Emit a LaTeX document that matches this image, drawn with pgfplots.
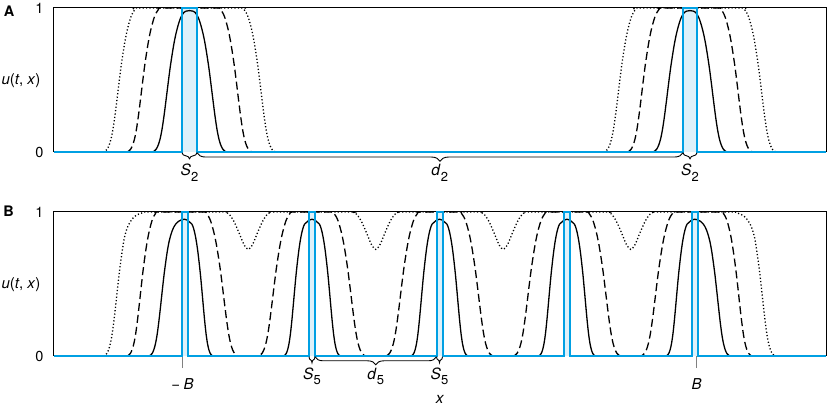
\documentclass[border=0pt]{standalone}
\usepackage{fontspec}
\setmainfont{TeX Gyre Heros}
\usepackage{pgfplots}
\pgfplotsset{compat=1.18}
\usetikzlibrary{decorations.pathreplacing}
\definecolor{myblue}{RGB}{0,160,227}
\definecolor{lightblue}{RGB}{222,241,250}
\newcommand{\lab}[2]{\textit{#1}\raisebox{-0.33em}{\fontsize{13}{15}\selectfont #2}}
\tikzset{bracestyle/.style={decorate, line width=0.9pt, black}}
\pgfplotsset{
  panel/.style={
    scale only axis, width=772pt, height=144pt,
    xmin=54, xmax=826, ymin=0, ymax=1,
    clip=false,
    axis line style={black, line width=1pt},
    ytick={0,1}, yticklabels={0,1},
    ytick style={draw=none},
    tick label style={font=\fontsize{14.5}{17}\selectfont},
    yticklabel style={xshift=-7pt},
    ylabel={\textit{u}(\textit{t}, \textit{x})},
    every axis y label/.style={at={(axis description cs:0,0.5)}, anchor=east, xshift=-10pt, yshift=-1pt, font=\fontsize{15}{17}\selectfont},
  },
  solidc/.style={black, line width=1.3pt, smooth},
  dashedc/.style={black, line width=1.3pt, smooth, dash pattern=on 8pt off 4pt},
  dottedc/.style={black, line width=1.3pt, smooth, dash pattern=on 1.2pt off 2.2pt},
  bluestep/.style={myblue, line width=2pt},
}
\begin{document}
\begin{tikzpicture}
\path[use as bounding box] (0,0) rectangle (829pt,409pt);
% ---------------- Panel A ----------------
\begin{axis}[panel, at={(54pt,257pt)}, anchor=south west, xtick=\empty]
\addplot[fill=lightblue, draw=none] coordinates {(182,0) (182,1) (197,1) (197,0)} \closedcycle;
\addplot[fill=lightblue, draw=none] coordinates {(683,0) (683,1) (697,1) (697,0)} \closedcycle;
% solid
\addplot[solidc] coordinates {(152,0) (154,0.005) (156,0.018) (158,0.044) (160,0.088) (162,0.157) (164,0.250) (166,0.358) (168,0.470) (170,0.578) (172,0.671) (174,0.755) (176,0.823) (178,0.877) (180,0.921) (182,0.951) (184,0.970) (186,0.978) (189.5,0.982) (193,0.978) (195,0.970) (197,0.951) (199,0.921) (201,0.877) (203,0.823) (205,0.755) (207,0.671) (209,0.578) (211,0.470) (213,0.358) (215,0.250) (217,0.157) (219,0.088) (221,0.044) (223,0.018) (225,0.005) (227,0)};
\addplot[solidc] coordinates {(652.5,0) (654.5,0.005) (656.5,0.018) (658.5,0.044) (660.5,0.088) (662.5,0.157) (664.5,0.250) (666.5,0.358) (668.5,0.470) (670.5,0.578) (672.5,0.671) (674.5,0.755) (676.5,0.823) (678.5,0.877) (680.5,0.921) (682.5,0.951) (684.5,0.970) (686.5,0.978) (690,0.982) (693.5,0.978) (695.5,0.970) (697.5,0.951) (699.5,0.921) (701.5,0.877) (703.5,0.823) (705.5,0.755) (707.5,0.671) (709.5,0.578) (711.5,0.470) (713.5,0.358) (715.5,0.250) (717.5,0.157) (719.5,0.088) (721.5,0.044) (723.5,0.018) (725.5,0.005) (727.5,0)};
% dashed
\addplot[dashedc] coordinates {(126.5,0) (128.5,0.005) (130.5,0.018) (132.5,0.045) (134.5,0.090) (136.5,0.160) (138.5,0.255) (140.5,0.365) (142.5,0.480) (144.5,0.590) (146.5,0.685) (148.5,0.770) (150.5,0.840) (152.5,0.895) (154.5,0.940) (156.5,0.970) (158.5,0.990) (160.5,1) (189.5,1) (218.5,1) (220.5,0.990) (222.5,0.970) (224.5,0.940) (226.5,0.895) (228.5,0.840) (230.5,0.770) (232.5,0.685) (234.5,0.590) (236.5,0.480) (238.5,0.365) (240.5,0.255) (242.5,0.160) (244.5,0.090) (246.5,0.045) (248.5,0.018) (250.5,0.005) (252.5,0)};
\addplot[dashedc] coordinates {(627,0) (629,0.005) (631,0.018) (633,0.045) (635,0.090) (637,0.160) (639,0.255) (641,0.365) (643,0.480) (645,0.590) (647,0.685) (649,0.770) (651,0.840) (653,0.895) (655,0.940) (657,0.970) (659,0.990) (661,1) (690,1) (719,1) (721,0.990) (723,0.970) (725,0.940) (727,0.895) (729,0.840) (731,0.770) (733,0.685) (735,0.590) (737,0.480) (739,0.365) (741,0.255) (743,0.160) (745,0.090) (747,0.045) (749,0.018) (751,0.005) (753,0)};
% dotted
\addplot[dottedc] coordinates {(103,0) (105,0.005) (107,0.018) (109,0.045) (111,0.090) (113,0.160) (115,0.255) (117,0.365) (119,0.480) (121,0.590) (123,0.685) (125,0.770) (127,0.840) (129,0.895) (131,0.940) (133,0.970) (135,0.990) (137,1) (189.5,1) (242,1) (244,0.990) (246,0.970) (248,0.940) (250,0.895) (252,0.840) (254,0.770) (256,0.685) (258,0.590) (260,0.480) (262,0.365) (264,0.255) (266,0.160) (268,0.090) (270,0.045) (272,0.018) (274,0.005) (276,0)};
\addplot[dottedc] coordinates {(603.5,0) (605.5,0.005) (607.5,0.018) (609.5,0.045) (611.5,0.090) (613.5,0.160) (615.5,0.255) (617.5,0.365) (619.5,0.480) (621.5,0.590) (623.5,0.685) (625.5,0.770) (627.5,0.840) (629.5,0.895) (631.5,0.940) (633.5,0.970) (635.5,0.990) (637.5,1) (690,1) (742.5,1) (744.5,0.990) (746.5,0.970) (748.5,0.940) (750.5,0.895) (752.5,0.840) (754.5,0.770) (756.5,0.685) (758.5,0.590) (760.5,0.480) (762.5,0.365) (764.5,0.255) (766.5,0.160) (768.5,0.090) (770.5,0.045) (772.5,0.018) (774.5,0.005) (776.5,0)};
% initial condition
\addplot[bluestep] coordinates {(54,0) (182,0) (182,1) (197,1) (197,0) (683,0) (683,1) (697,1) (697,0) (826,0)};
% braces
\draw[bracestyle, decoration={brace, mirror, amplitude=6pt}] ([yshift=-0.8pt]axis cs:182,0) -- ([yshift=-0.8pt]axis cs:197,0);
\draw[bracestyle, decoration={brace, mirror, amplitude=6pt}] ([yshift=-0.8pt]axis cs:683,0) -- ([yshift=-0.8pt]axis cs:697,0);
\draw[bracestyle, decoration={brace, mirror, amplitude=8.5pt}] ([yshift=-0.8pt]axis cs:197,0) -- ([yshift=-0.8pt]axis cs:683,0);
\node[anchor=base, font=\fontsize{15.5}{17}\selectfont, yshift=-24pt] at (axis cs:189.5,0) {\lab{S}{2}};
\node[anchor=base, font=\fontsize{15.5}{17}\selectfont, yshift=-24pt] at (axis cs:690,0) {\lab{S}{2}};
\node[anchor=base, font=\fontsize{15.5}{17}\selectfont, yshift=-24pt] at (axis cs:439.75,0) {\lab{d}{2}};
\end{axis}
% ---------------- Panel B ----------------
\begin{axis}[panel, at={(54pt,53pt)}, anchor=south west,
  xtick={182.5,696.5}, xticklabels={−\hspace{0.22em}\textit{B},\textit{B}},
  xtick pos=bottom,
  xtick align=outside, major tick length=12pt,
  xtick style={draw=gray, line width=0.8pt},
  xticklabel style={anchor=base, yshift=-21pt, font=\fontsize{15}{17}\selectfont},
  xlabel={\textit{x}},
  every axis x label/.style={at={(axis description cs:0.5,0)}, anchor=base, yshift=-48pt, font=\fontsize{15.5}{17}\selectfont},
]
\addplot[fill=lightblue, draw=none] coordinates {(181.5,0) (181.5,1) (187.5,1) (187.5,0)} \closedcycle;
\addplot[fill=lightblue, draw=none] coordinates {(309,0) (309,1) (315,1) (315,0)} \closedcycle;
\addplot[fill=lightblue, draw=none] coordinates {(436.5,0) (436.5,1) (442.5,1) (442.5,0)} \closedcycle;
\addplot[fill=lightblue, draw=none] coordinates {(564,0) (564,1) (570,1) (570,0)} \closedcycle;
\addplot[fill=lightblue, draw=none] coordinates {(691.5,0) (691.5,1) (697.5,1) (697.5,0)} \closedcycle;
% solid bumps
\addplot[solidc] coordinates {(148.7,0) (150.4,0.005) (152.1,0.017) (153.8,0.043) (155.5,0.086) (157.2,0.152) (158.9,0.242) (160.6,0.347) (162.3,0.456) (164,0.561) (165.7,0.651) (167.4,0.732) (169.1,0.795) (170.8,0.840) (172.5,0.875) (174.2,0.900) (175.9,0.918) (178.5,0.935) (181.5,0.946) (184.5,0.950) (187.5,0.943) (190,0.928) (192,0.915) (193.5,0.888) (194.9,0.850) (196.3,0.798) (197.7,0.732) (199.1,0.651) (200.5,0.561) (201.9,0.456) (203.3,0.347) (204.7,0.242) (206.1,0.152) (207.5,0.086) (208.9,0.043) (210.3,0.017) (211.7,0.005) (213.1,0)};
\addplot[solidc] coordinates {(283.4,0) (284.8,0.005) (286.2,0.017) (287.6,0.043) (289,0.086) (290.4,0.152) (291.8,0.242) (293.2,0.347) (294.6,0.456) (296,0.561) (297.4,0.651) (298.8,0.732) (300.2,0.798) (301.6,0.850) (303,0.888) (304.5,0.915) (306.5,0.928) (309,0.943) (312,0.950) (315,0.943) (317.5,0.928) (319.5,0.915) (321,0.888) (322.4,0.850) (323.8,0.798) (325.2,0.732) (326.6,0.651) (328,0.561) (329.4,0.456) (330.8,0.347) (332.2,0.242) (333.6,0.152) (335,0.086) (336.4,0.043) (337.8,0.017) (339.2,0.005) (340.6,0)};
\addplot[solidc] coordinates {(410.9,0) (412.3,0.005) (413.7,0.017) (415.1,0.043) (416.5,0.086) (417.9,0.152) (419.3,0.242) (420.7,0.347) (422.1,0.456) (423.5,0.561) (424.9,0.651) (426.3,0.732) (427.7,0.798) (429.1,0.850) (430.5,0.888) (432,0.915) (434,0.928) (436.5,0.943) (439.5,0.950) (442.5,0.943) (445,0.928) (447,0.915) (448.5,0.888) (449.9,0.850) (451.3,0.798) (452.7,0.732) (454.1,0.651) (455.5,0.561) (456.9,0.456) (458.3,0.347) (459.7,0.242) (461.1,0.152) (462.5,0.086) (463.9,0.043) (465.3,0.017) (466.7,0.005) (468.1,0)};
\addplot[solidc] coordinates {(538.4,0) (539.8,0.005) (541.2,0.017) (542.6,0.043) (544,0.086) (545.4,0.152) (546.8,0.242) (548.2,0.347) (549.6,0.456) (551,0.561) (552.4,0.651) (553.8,0.732) (555.2,0.798) (556.6,0.850) (558,0.888) (559.5,0.915) (561.5,0.928) (564,0.943) (567,0.950) (570,0.943) (572.5,0.928) (574.5,0.915) (576,0.888) (577.4,0.850) (578.8,0.798) (580.2,0.732) (581.6,0.651) (583,0.561) (584.4,0.456) (585.8,0.347) (587.2,0.242) (588.6,0.152) (590,0.086) (591.4,0.043) (592.8,0.017) (594.2,0.005) (595.6,0)};
\addplot[solidc] coordinates {(665.9,0) (667.3,0.005) (668.7,0.017) (670.1,0.043) (671.5,0.086) (672.9,0.152) (674.3,0.242) (675.7,0.347) (677.1,0.456) (678.5,0.561) (679.9,0.651) (681.3,0.732) (682.7,0.798) (684.1,0.850) (685.5,0.888) (687,0.915) (689,0.928) (691.5,0.943) (694.5,0.950) (697.5,0.946) (700.5,0.935) (703.1,0.918) (704.8,0.900) (706.5,0.875) (708.2,0.840) (709.9,0.795) (711.6,0.732) (713.3,0.651) (715,0.561) (716.7,0.456) (718.4,0.347) (720.1,0.242) (721.8,0.152) (723.5,0.086) (725.2,0.043) (726.9,0.017) (728.6,0.005) (730.3,0)};
% dashed
\addplot[dashedc] coordinates {(126.8,0) (128.6,0.005) (130.4,0.018) (132.2,0.045) (134,0.090) (135.8,0.160) (137.6,0.255) (139.4,0.365) (141.2,0.480) (143,0.590) (144.8,0.685) (146.6,0.770) (148.4,0.840) (150.2,0.895) (152,0.940) (153.8,0.970) (155.6,0.990) (157.4,1) (184.5,1) (204.5,1) (206.5,0.990) (208.5,0.970) (210.5,0.940) (212.5,0.895) (214.5,0.840) (216.5,0.770) (218.5,0.685) (220.5,0.590) (222.5,0.480) (224.5,0.365) (226.5,0.255) (228.5,0.160) (230.5,0.090) (232.5,0.045) (234.5,0.018) (236.5,0.005) (238.5,0) (248.25,0) (258,0) (260,0.005) (262,0.018) (264,0.045) (266,0.090) (268,0.160) (270,0.255) (272,0.365) (274,0.480) (276,0.590) (278,0.685) (280,0.770) (282,0.840) (284,0.895) (286,0.940) (288,0.970) (290,0.990) (292,1) (312,1) (332,1) (334,0.990) (336,0.970) (338,0.940) (340,0.895) (342,0.840) (344,0.770) (346,0.685) (348,0.590) (350,0.480) (352,0.365) (354,0.255) (356,0.160) (358,0.090) (360,0.045) (362,0.018) (364,0.005) (366,0) (375.75,0) (385.5,0) (387.5,0.005) (389.5,0.018) (391.5,0.045) (393.5,0.090) (395.5,0.160) (397.5,0.255) (399.5,0.365) (401.5,0.480) (403.5,0.590) (405.5,0.685) (407.5,0.770) (409.5,0.840) (411.5,0.895) (413.5,0.940) (415.5,0.970) (417.5,0.990) (419.5,1) (439.5,1) (459.5,1) (461.5,0.990) (463.5,0.970) (465.5,0.940) (467.5,0.895) (469.5,0.840) (471.5,0.770) (473.5,0.685) (475.5,0.590) (477.5,0.480) (479.5,0.365) (481.5,0.255) (483.5,0.160) (485.5,0.090) (487.5,0.045) (489.5,0.018) (491.5,0.005) (493.5,0) (503.25,0) (513,0) (515,0.005) (517,0.018) (519,0.045) (521,0.090) (523,0.160) (525,0.255) (527,0.365) (529,0.480) (531,0.590) (533,0.685) (535,0.770) (537,0.840) (539,0.895) (541,0.940) (543,0.970) (545,0.990) (547,1) (567,1) (587,1) (589,0.990) (591,0.970) (593,0.940) (595,0.895) (597,0.840) (599,0.770) (601,0.685) (603,0.590) (605,0.480) (607,0.365) (609,0.255) (611,0.160) (613,0.090) (615,0.045) (617,0.018) (619,0.005) (621,0) (630.75,0) (640.5,0) (642.5,0.005) (644.5,0.018) (646.5,0.045) (648.5,0.090) (650.5,0.160) (652.5,0.255) (654.5,0.365) (656.5,0.480) (658.5,0.590) (660.5,0.685) (662.5,0.770) (664.5,0.840) (666.5,0.895) (668.5,0.940) (670.5,0.970) (672.5,0.990) (674.5,1) (694.5,1) (721.6,1) (723.4,0.990) (725.2,0.970) (727,0.940) (728.8,0.895) (730.6,0.840) (732.4,0.770) (734.2,0.685) (736,0.590) (737.8,0.480) (739.6,0.365) (741.4,0.255) (743.2,0.160) (745,0.090) (746.8,0.045) (748.6,0.018) (750.4,0.005) (752.2,0)};
% dotted
\addplot[dottedc] coordinates {(103.3,0) (105.1,0.005) (106.9,0.018) (108.7,0.045) (110.5,0.090) (112.3,0.160) (114.1,0.255) (115.9,0.365) (117.7,0.480) (119.5,0.590) (121.3,0.685) (123.1,0.770) (124.5,0.825) (126.5,0.875) (128.5,0.910) (131.5,0.945) (134.5,0.968) (138.5,0.985) (142.5,0.995) (146.5,1) (184.5,1) (224.25,1) (226.25,0.997) (228.25,0.990) (230.25,0.975) (232.25,0.955) (234.25,0.930) (236.25,0.900) (238.25,0.868) (240.25,0.835) (242.25,0.800) (244.25,0.770) (246.25,0.750) (248.25,0.740) (250.25,0.750) (252.25,0.770) (254.25,0.800) (256.25,0.835) (258.25,0.868) (260.25,0.900) (262.25,0.930) (264.25,0.955) (266.25,0.975) (268.25,0.990) (270.25,0.997) (272.25,1) (312,1) (351.75,1) (353.75,0.997) (355.75,0.990) (357.75,0.975) (359.75,0.955) (361.75,0.930) (363.75,0.900) (365.75,0.868) (367.75,0.835) (369.75,0.800) (371.75,0.770) (373.75,0.750) (375.75,0.740) (377.75,0.750) (379.75,0.770) (381.75,0.800) (383.75,0.835) (385.75,0.868) (387.75,0.900) (389.75,0.930) (391.75,0.955) (393.75,0.975) (395.75,0.990) (397.75,0.997) (399.75,1) (439.5,1) (479.25,1) (481.25,0.997) (483.25,0.990) (485.25,0.975) (487.25,0.955) (489.25,0.930) (491.25,0.900) (493.25,0.868) (495.25,0.835) (497.25,0.800) (499.25,0.770) (501.25,0.750) (503.25,0.740) (505.25,0.750) (507.25,0.770) (509.25,0.800) (511.25,0.835) (513.25,0.868) (515.25,0.900) (517.25,0.930) (519.25,0.955) (521.25,0.975) (523.25,0.990) (525.25,0.997) (527.25,1) (567,1) (606.75,1) (608.75,0.997) (610.75,0.990) (612.75,0.975) (614.75,0.955) (616.75,0.930) (618.75,0.900) (620.75,0.868) (622.75,0.835) (624.75,0.800) (626.75,0.770) (628.75,0.750) (630.75,0.740) (632.75,0.750) (634.75,0.770) (636.75,0.800) (638.75,0.835) (640.75,0.868) (642.75,0.900) (644.75,0.930) (646.75,0.955) (648.75,0.975) (650.75,0.990) (652.75,0.997) (654.75,1) (694.5,1) (732.5,1) (736.5,0.995) (740.5,0.985) (744.5,0.968) (747.5,0.945) (750.5,0.910) (752.5,0.875) (754.5,0.825) (755.9,0.770) (757.7,0.685) (759.5,0.590) (761.3,0.480) (763.1,0.365) (764.9,0.255) (766.7,0.160) (768.5,0.090) (770.3,0.045) (772.1,0.018) (773.9,0.005) (775.7,0)};
% initial condition
\addplot[bluestep] coordinates {(54,0) (181.5,0) (181.5,1) (187.5,1) (187.5,0) (309,0) (309,1) (315,1) (315,0) (436.5,0) (436.5,1) (442.5,1) (442.5,0) (564,0) (564,1) (570,1) (570,0) (691.5,0) (691.5,1) (697.5,1) (697.5,0) (826,0)};
% braces
\draw[bracestyle, decoration={brace, mirror, amplitude=6pt}] ([yshift=-0.8pt]axis cs:309,0) -- ([yshift=-0.8pt]axis cs:315,0);
\draw[bracestyle, decoration={brace, mirror, amplitude=6pt}] ([yshift=-0.8pt]axis cs:436.5,0) -- ([yshift=-0.8pt]axis cs:442.5,0);
\draw[bracestyle, decoration={brace, mirror, amplitude=8pt}] ([yshift=-0.8pt]axis cs:315,0) -- ([yshift=-0.8pt]axis cs:436.5,0);
\node[anchor=base, font=\fontsize{15.5}{17}\selectfont, yshift=-23.5pt] at (axis cs:312,0) {\lab{S}{5}};
\node[anchor=base, font=\fontsize{15.5}{17}\selectfont, yshift=-23.5pt] at (axis cs:439.5,0) {\lab{S}{5}};
\node[anchor=base, font=\fontsize{15.5}{17}\selectfont, yshift=-23.5pt] at (axis cs:375.75,0) {\lab{d}{5}};
\end{axis}
\node[font=\bfseries\fontsize{14.5}{17}\selectfont] at (9pt,398pt) {A};
\node[font=\bfseries\fontsize{14.5}{17}\selectfont] at (8.5pt,197.5pt) {B};
\end{tikzpicture}
\end{document}
